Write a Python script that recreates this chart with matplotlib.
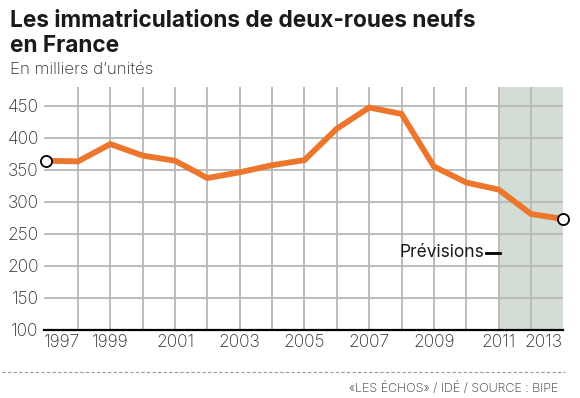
import matplotlib
matplotlib.use("Agg")
import matplotlib.pyplot as plt
from matplotlib.lines import Line2D

years = list(range(1997, 2014))
values = [364, 363, 390, 372, 364, 337, 346, 357, 365, 414, 447, 437, 355, 330, 319, 281, 273]
yticks = [100, 150, 200, 250, 300, 350, 400, 450]
xtick_years = list(range(1997, 2014, 2))
forecast_start = 2011

title_l1 = "Les immatriculations de deux-roues neufs"
title_l2 = "en France"
subtitle = "En milliers d\u2019unités"
source = "«LES ÉCHOS» / IDÉ / SOURCE : BIPE"
prev_label = "Prévisions"

ORANGE = "#ec762c"
SHADE = "#d3ddd6"
GRID = "#b8b8b8"
TXT = "#2a2a2a"

W, H = 580, 398
fig = plt.figure(figsize=(W / 100, H / 100), dpi=100)
ax = fig.add_axes([44.3 / W, 1 - 330 / H, (562.7 - 44.3) / W, (330 - 87) / H])

x0, x1 = 1996.96, 2012.98
ax.set_xlim(x0, x1)
ax.set_ylim(100, 479)

ax.axvspan(forecast_start, x1, color=SHADE, lw=0, zorder=0)

for yr in range(1998, 2013):
    ax.axvline(yr, color=GRID, lw=1.3, zorder=1)
for v in yticks[1:]:
    ax.axhline(v, color=GRID, lw=1.3, zorder=1)
ax.axhline(100, color="black", lw=1.6, zorder=3, clip_on=False)

ax.plot(years, values, color=ORANGE, lw=4.2, solid_joinstyle="miter", zorder=4, clip_on=False)
ax.plot([years[0], years[-1]], [values[0], values[-1]], ls="none", marker="o", ms=8,
        mfc="white", mec="black", mew=1.3, zorder=5, clip_on=False)

for s in ax.spines.values():
    s.set_visible(False)
ax.tick_params(length=0)
ax.set_yticks(yticks)
ax.set_yticklabels([str(v) for v in yticks], fontsize=12.5, color=TXT,
                   family="Inter", fontweight="light")
ax.tick_params(axis="y", pad=4)
ax.set_xticks([])
for yr in xtick_years:
    if yr == xtick_years[0]:
        xp, ha = x0, "left"
    elif yr == xtick_years[-1]:
        xp, ha = x1, "right"
    else:
        xp, ha = yr, "center"
    ax.text(xp, 93, str(yr), ha=ha, va="top", fontsize=12.5, color=TXT,
            family="Inter", fontweight="light", transform=ax.transData, clip_on=False)

ax.text(2010.55, 221, prev_label, ha="right", va="center", fontsize=12.5,
        color="#1a1a1a", family="Inter")
ax.plot([2010.62, 2011.05], [220, 220], color="black", lw=2, zorder=5)

fig.text(10 / W, 1 - 27 / H, title_l1, ha="left", va="baseline", fontsize=16.3,
         fontweight="bold", family="Inter", color="#1a1a1a")
fig.text(10 / W, 1 - 52 / H, title_l2, ha="left", va="baseline", fontsize=16.3,
         fontweight="bold", family="Inter", color="#1a1a1a")
fig.text(10 / W, 1 - 74 / H, subtitle, ha="left", va="baseline", fontsize=12.2,
         family="Inter", fontweight="light", color=TXT)

fig.add_artist(Line2D([2 / W, 565 / W], [1 - 372 / H, 1 - 372 / H], color="#9a9a9a",
                      lw=0.8, ls=(0, (3, 2))))
fig.text(558 / W, 1 - 392 / H, source, ha="right", va="baseline", fontsize=9,
         family="Inter", fontweight="light", color=TXT)

fig.savefig("out.png", dpi=100)
